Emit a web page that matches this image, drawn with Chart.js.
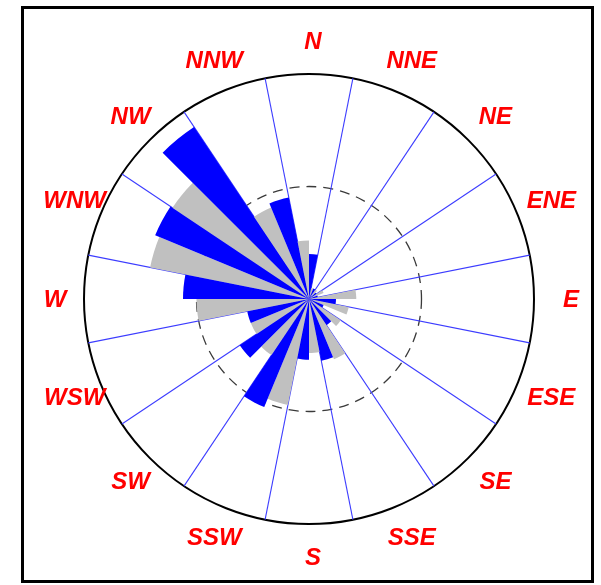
<!DOCTYPE html>
<html>
<head>
<meta charset="utf-8">
<script src="https://cdn.jsdelivr.net/npm/chart.js@4/dist/chart.umd.min.js"></script>
<style>
  html, body { margin: 0; padding: 0; background: #fff; }
  #wrap { position: relative; width: 601px; height: 585px; overflow: hidden; }
  #frame {
    position: absolute; left: 21px; top: 6px;
    width: 567px; height: 571px;
    border: 3px solid #000;
  }
  #rose { position: absolute; left: 0; top: 0; }
</style>
</head>
<body>
<div id="wrap">
  <div id="frame"></div>
  <canvas id="rose" width="601" height="585"></canvas>
</div>
<script>
// Sixteen compass sectors, clockwise from north
const directions = ['N', 'NNE', 'NE', 'ENE', 'E', 'ESE', 'SE', 'SSE',
                    'S', 'SSW', 'SW', 'WSW', 'W', 'WNW', 'NW', 'NNW'];

// Blue series: half-sector just clockwise of each direction
const blueSeries = [2.0, 0.5, 0.4, 0.4, 1.2, 0.7, 1.4, 2.8,
                    2.7, 5.2, 3.7, 2.8, 5.6, 7.4, 9.2, 4.6];

// Grey series: half-sector just counter-clockwise of each direction
const greySeries = [2.6, 0.5, 0.5, 0.7, 2.1, 1.8, 1.7, 2.9,
                    2.4, 4.8, 3.0, 2.8, 5.0, 7.2, 7.3, 4.4];

// Radial rings: inner dashed ring and outer rim
const radialTicks = [0, 5, 10];

const BLUE = '#0000ff';
const GREY = '#c0c0c0';

// Interleave the two series into 32 half-sectors of 11.25 degrees
const sliceValues = [];
const sliceColors = [];
const sliceLabels = [];
directions.forEach((dir, k) => {
  sliceValues.push(blueSeries[k]);
  sliceColors.push(BLUE);
  sliceLabels.push(dir);
  sliceValues.push(greySeries[(k + 1) % directions.length]);
  sliceColors.push(GREY);
  sliceLabels.push('');
});

const labelFontString = 'italic bold 24px "Liberation Sans", Arial, sans-serif';
const RIM = 225;          // plot radius in px
const LABEL_DIST = 258;   // distance of compass label centres from the hub
const LABEL_SHIFT = { x: 4, y: 1 };

// Compass labels centred on a ring just outside the rim
const compassLabels = {
  id: 'compassLabels',
  afterDatasetsDraw(chart) {
    const scale = chart.scales.r;
    const ctx = chart.ctx;
    ctx.save();
    ctx.font = labelFontString;
    ctx.fillStyle = '#ff0000';
    ctx.textAlign = 'center';
    ctx.textBaseline = 'middle';
    scale._pointLabels.forEach((label, i) => {
      if (!label) return;
      const p = scale.getPointPosition(i, LABEL_DIST);
      ctx.fillText(label, p.x + LABEL_SHIFT.x, p.y + LABEL_SHIFT.y);
    });
    ctx.restore();
  }
};

new Chart(document.getElementById('rose'), {
  type: 'polarArea',
  data: {
    labels: sliceLabels,
    datasets: [{
      data: sliceValues,
      backgroundColor: sliceColors,
      borderWidth: 0
    }]
  },
  plugins: [compassLabels],
  options: {
    responsive: false,
    animation: false,
    layout: { padding: 0 },
    plugins: {
      legend: { display: false },
      tooltip: { enabled: false }
    },
    scales: {
      r: {
        min: radialTicks[0],
        max: radialTicks[radialTicks.length - 1],
        startAngle: 0,
        afterSetDimensions: (scale) => {
          scale.xCenter = 309;
          scale.yCenter = 299;
          scale.drawingArea = RIM;
        },
        afterBuildTicks: (scale) => {
          scale.ticks = radialTicks.map(v => ({ value: v }));
        },
        ticks: { display: false, stepSize: radialTicks[1] - radialTicks[0] },
        grid: {
          circular: true,
          color: (ctx) => ctx.index === radialTicks.length - 1 ? '#000000' : '#3a3a3a',
          lineWidth: (ctx) => ctx.index === radialTicks.length - 1 ? 2 : 1.3
        },
        border: {
          dash: (ctx) => ctx.index === radialTicks.length - 1 ? [] : [10, 7]
        },
        angleLines: {
          display: true,
          color: '#3c3cff',
          lineWidth: (ctx) => (ctx.index % 2 === 1 ? 1.1 : 0)
        },
        pointLabels: { display: false }
      }
    }
  }
});
</script>
</body>
</html>
